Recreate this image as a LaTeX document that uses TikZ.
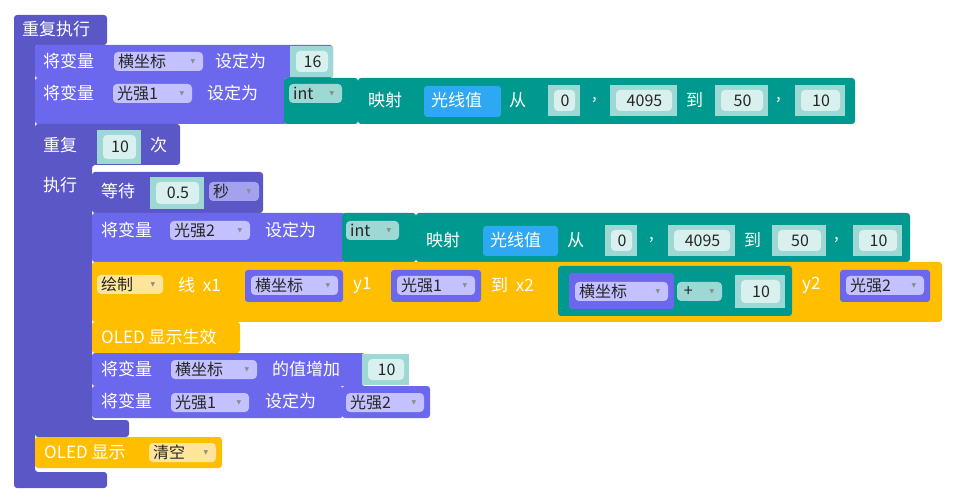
\documentclass[tikz,border=0pt]{standalone}
\usepackage{fontspec}
\setmainfont{Noto Sans CJK SC}
\newfontfamily\arrfont{DejaVu Sans}
\definecolor{loopc}{HTML}{5B57C6}
\definecolor{varc}{HTML}{6C68EE}
\definecolor{tealc}{HTML}{00998F}
\definecolor{tealin}{HTML}{9ED8D4}
\definecolor{numin}{HTML}{D8F0EE}
\definecolor{fieldc}{HTML}{C3C1FF}
\definecolor{oledc}{HTML}{FFBF00}
\definecolor{oledin}{HTML}{FFE59B}
\definecolor{sensc}{HTML}{2EA8F2}
\tikzset{
  lbl/.style = {anchor=west, text=white, inner sep=0pt, font=\fontsize{17}{19}\selectfont},
  dark/.style = {anchor=west, text=black!85, inner sep=0pt, font=\fontsize{16}{18}\selectfont},
  tip/.style = {text=black!45, inner sep=0pt, font=\arrfont\fontsize{6}{6}\selectfont},
  blockfill/.style = {rounded corners=3pt},
}
% block, label, dropdown field and number socket
\newcommand{\blk}[5]{\fill[#5, blockfill] (#1,#2) rectangle (#3,#4);}
\newcommand{\lbl}[3]{\node[lbl] at (#1,#2) {#3};}
\newcommand{\dd}[6]{\fill[#5, rounded corners=4pt] (#1,#2) rectangle (#3,#4);
  \node[dark] at (#1+4,{(#2+#4)/2}) {#6};
  \node[tip] at (#3-10,{(#2+#4)/2}) {▼};}
\newcommand{\num}[5]{\fill[tealin] (#1,#2) rectangle (#3,#4);
  \fill[numin, rounded corners=4pt] (#1+6,#2+5) rectangle (#3-5,#4-5);
  \node[text=black!85, font=\fontsize{16}{18}\selectfont, inner sep=0pt] at ({(#1+#3)/2+1},{(#2+#4)/2}) {#5};}
\begin{document}
\begin{tikzpicture}[x=1pt, y=-1pt]
\useasboundingbox (0,0) rectangle (955,502);

% outer forever loop
\fill[loopc, blockfill] (14,15) -- (107,15) -- (107,45) -- (35,45) -- (35,472)
  -- (107,472) -- (107,488) -- (14,488) -- cycle;
\lbl{22}{29}{重复执行}

% set x and light1
\blk{35}{45}{333}{78}{varc}
\lbl{43}{61}{将变量}
\dd{114}{52}{203}{71}{fieldc}{横坐标}
\lbl{215}{61}{设定为}
\num{290}{46}{333}{77}{16}
\blk{35}{78}{287}{124}{varc}
\lbl{43}{93}{将变量}
\dd{113}{84}{192}{103}{fieldc}{光强1}
\lbl{207}{93}{设定为}
\blk{284}{78}{358}{124}{tealc}
\dd{289}{84}{342}{103}{tealin}{int}
\blk{358}{78}{855}{124}{tealc}
\lbl{368}{100}{映射}
\blk{424}{86}{501}{117}{sensc}
\lbl{431}{100}{光线值}
\lbl{509}{100}{从}
\num{548}{85}{580}{116}{0}
\lbl{592}{100}{,}
\num{610}{85}{677}{116}{4095}
\lbl{686}{100}{到}
\num{715}{85}{768}{116}{50}
\lbl{776}{100}{,}
\num{795}{85}{845}{116}{10}

% repeat 10 times
\fill[loopc, blockfill] (35,124) -- (180,124) -- (180,165) -- (92,165) -- (92,420)
  -- (129,420) -- (129,437) -- (35,437) -- cycle;
\lbl{43}{145}{重复}
\num{97}{130}{141}{164}{10}
\lbl{150}{145}{次}
\lbl{43}{185}{执行}

% wait
\blk{92}{172}{263}{213}{loopc}
\lbl{101}{191}{等待}
\num{150}{177}{204}{209}{0.5}
\dd{209}{182}{259}{201}{fieldc!70!loopc}{秒}

% set light2
\blk{92}{213}{345}{262}{varc}
\lbl{101}{230}{将变量}
\dd{170}{221}{250}{240}{fieldc}{光强2}
\lbl{265}{230}{设定为}
\blk{342}{213}{416}{262}{tealc}
\dd{346}{221}{399}{240}{tealin}{int}
\blk{416}{213}{910}{262}{tealc}
\lbl{426}{240}{映射}
\blk{483}{226}{558}{256}{sensc}
\lbl{490}{240}{光线值}
\lbl{567}{240}{从}
\num{605}{225}{637}{256}{0}
\lbl{649}{240}{,}
\num{668}{225}{735}{256}{4095}
\lbl{744}{240}{到}
\num{772}{225}{826}{256}{50}
\lbl{834}{240}{,}
\num{853}{225}{902}{256}{10}

% draw line
\blk{92}{262}{942}{322}{oledc}
\dd{97}{275}{163}{294}{oledin}{绘制}
\lbl{178}{285}{线 ~x1}
\blk{245}{270}{343}{302}{varc}
\dd{251}{276}{338}{295}{fieldc}{横坐标}
\lbl{353}{285}{y1}
\blk{391}{270}{481}{302}{varc}
\dd{397}{276}{475}{295}{fieldc}{光强1}
\lbl{491}{285}{到 ~x2}
\blk{558}{266}{792}{316}{tealc}
\blk{569}{273}{674}{309}{varc}
\dd{575}{282}{668}{301}{fieldc}{横坐标}
\dd{677}{282}{722}{301}{tealin}{\,+}
\num{735}{275}{785}{308}{10}
\lbl{802}{285}{y2}
\blk{840}{270}{930}{302}{varc}
\dd{846}{276}{924}{295}{fieldc}{光强2}

% oled show
\blk{92}{322}{240}{353}{oledc}
\lbl{101}{337}{OLED 显示生效}

% increase x
\blk{92}{353}{365}{386}{varc}
\lbl{101}{369}{将变量}
\dd{171}{360}{257}{379}{fieldc}{横坐标}
\lbl{272}{369}{的值增加}
\num{362}{354}{409}{385}{10}

% light1 = light2
\blk{92}{386}{343}{418}{varc}
\lbl{101}{401}{将变量}
\dd{171}{393}{249}{412}{fieldc}{光强1}
\lbl{265}{401}{设定为}
\blk{342}{386}{430}{418}{varc}
\dd{346}{393}{424}{412}{fieldc}{光强2}

% oled clear
\blk{35}{437}{222}{468}{oledc}
\lbl{44}{452}{OLED 显示}
\dd{149}{443}{216}{462}{oledin}{清空}
\end{tikzpicture}
\end{document}
